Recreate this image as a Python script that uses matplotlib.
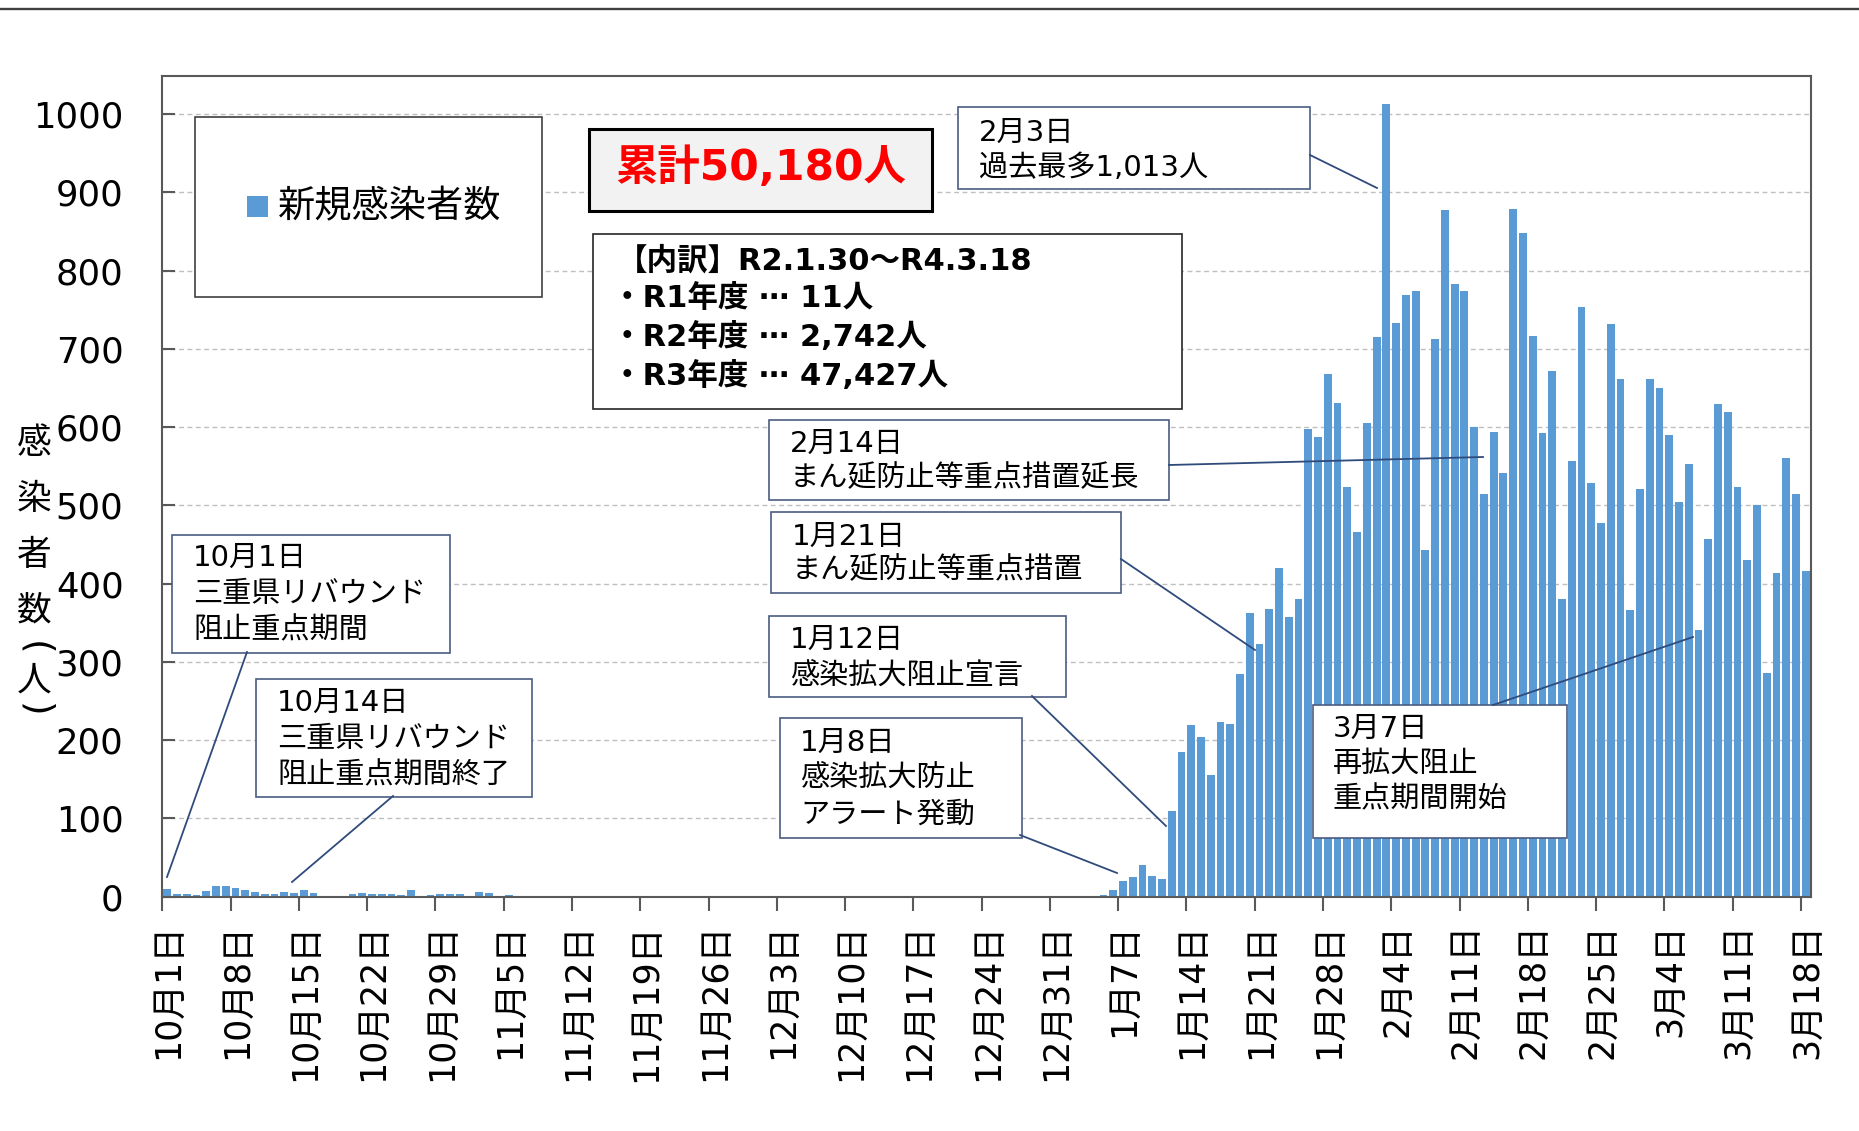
import matplotlib
matplotlib.use('Agg')
import matplotlib.pyplot as plt
import matplotlib.transforms as mtransforms
from matplotlib.patches import Rectangle
from matplotlib.lines import Line2D
import numpy as np

plt.rcParams['font.family'] = ['DejaVu Sans', 'Noto Sans CJK JP']

# ---- data: daily new infections, 2021-10-01 .. 2022-03-18 ----
oct_counts = [10, 3, 4, 2, 7, 14, 14, 11, 9, 6, 3, 3, 6, 5, 8, 5, 1, 0, 1, 3,
              5, 3, 3, 3, 2, 8, 0, 2, 3, 3, 3]
nov_counts = [0, 6, 5, 0, 2, 1] + [0] * 24
dec_counts = [0] * 31
jan_counts = [1, 1, 0, 0, 2, 9, 20, 25, 41, 26, 23, 110, 185, 219, 204, 156,
              223, 221, 284, 363, 323, 368, 420, 357, 381, 597, 588, 668, 631,
              523, 466]
feb_counts = [605, 715, 1013, 733, 769, 774, 443, 713, 877, 783, 774, 600, 515,
              594, 542, 879, 848, 717, 592, 672, 380, 557, 753, 529, 477, 732,
              661, 366]
mar_counts = [521, 662, 650, 590, 504, 553, 341, 457, 629, 619, 523, 430, 500,
              286, 414, 560, 514, 416]

tick_labels = ['10月1日', '10月8日', '10月15日', '10月22日', '10月29日', '11月5日',
               '11月12日', '11月19日', '11月26日', '12月3日', '12月10日', '12月17日',
               '12月24日', '12月31日', '1月7日', '1月14日', '1月21日', '1月28日',
               '2月4日', '2月11日', '2月18日', '2月25日', '3月4日', '3月11日',
               '3月18日']
y_ticks = [0, 100, 200, 300, 400, 500, 600, 700, 800, 900, 1000]

counts = oct_counts + nov_counts + dec_counts + jan_counts + feb_counts + mar_counts
n_days = len(counts)

BAR = '#5B9BD5'
W, H = 1859, 1131
fig = plt.figure(figsize=(W / 100, H / 100), dpi=100)
PX = mtransforms.Affine2D().scale(1 / W, -1 / H).translate(0, 1) + fig.transFigure

ax_l, ax_r, ax_t, ax_b = 162.4, 1810.6, 75.7, 896.7
ax = fig.add_axes([ax_l / W, 1 - ax_b / H, (ax_r - ax_l) / W, (ax_b - ax_t) / H])

x = np.arange(n_days) + 0.5
ax.bar(x, counts, width=0.8, color=BAR, zorder=2)
ax.set_xlim(0, n_days)
ax.set_ylim(0, 1049)
ax.set_axisbelow(True)
ax.yaxis.grid(True, linestyle=(0, (3.5, 2.5)), color='#bfbfbf', lw=1.0)

ax.set_xticks(np.arange(0, n_days, 7))
ax.set_xticklabels(tick_labels)
ax.set_yticks(y_ticks)
ax.tick_params(axis='x', direction='out', length=10, width=1.5, color='#595959',
               pad=9, labelsize=25, labelrotation=90)
ax.tick_params(axis='y', direction='in', length=9, width=1.5, color='#595959',
               pad=28, labelsize=25.5)
shift = mtransforms.ScaledTranslation(6 / 100, 0, fig.dpi_scale_trans)
for lab in ax.get_xticklabels():
    lab.set_transform(lab.get_transform() + shift)
for s in ax.spines.values():
    s.set_color('#595959')
    s.set_linewidth(1.5)

# top rule of the slide
fig.add_artist(Line2D([0, W], [9, 9], transform=PX, color='#404040', lw=1.7))

# y label, stacked vertically
ylab = [('感', 444, 0), ('染', 499, 0), ('者', 555, 0), ('数', 611, 0),
        ('(', 648, -90), ('人', 681, 0), (')', 710, -90)]
for ch, yy, rot in ylab:
    fig.text(34, yy, ch, transform=PX, ha='center', va='center',
             fontsize=25 if rot == 0 else 27,
             rotation=rot, family=['Noto Sans CJK JP'] if rot == 0 else ['DejaVu Sans'])


def box(x0, y0, x1, y1, ec, lw, fc='white'):
    fig.add_artist(Rectangle((x0, y0), x1 - x0, y1 - y0, transform=PX,
                             facecolor=fc, edgecolor=ec, lw=lw))


def lines_text(x0, y0, dy, lines, **kw):
    for k, s in enumerate(lines):
        fig.text(x0, y0 + k * dy, s, transform=PX, ha='left', va='center', **kw)


def leader(p0, p1):
    fig.add_artist(Line2D([p0[0], p1[0]], [p0[1], p1[1]], transform=PX,
                          color='#2F4B7C', lw=1.3))


# legend
box(194.7, 117.3, 542, 297.3, '#404040', 1.2)
fig.add_artist(Rectangle((246.8, 195.7), 21.2, 21.6, transform=PX,
                         facecolor=BAR, edgecolor='none'))
fig.text(278, 207, '新規感染者数', transform=PX, ha='left', va='center', fontsize=26.8)

# cumulative total
box(589, 129, 932, 211, 'black', 2.2, fc='#F2F2F2')
fig.text(760.5, 168, '累計50,180人', transform=PX, ha='center', va='center',
         fontsize=30.5, fontweight='bold', color='#FF0000')

# breakdown
box(593, 234, 1182, 409, '#262626', 1.2)
fig.text(617, 260.5, '【内訳】R2.1.30～R4.3.18', transform=PX, ha='left',
         va='center', fontsize=22, fontweight='bold')
lines_text(612, 298.5, 38.5, ['・R1年度 ⋯ 11人', '・R2年度 ⋯ 2,742人',
                              '・R3年度 ⋯ 47,427人'], fontsize=22, fontweight='bold')

EC = '#4A5C82'
ann = [
    ((958, 107, 1310, 189), (979, 133, 35), ['2月3日', '過去最多1,013人'],
     ((1310, 155), (1377, 188))),
    ((769, 420, 1169, 500), (790, 444, 34), ['2月14日', 'まん延防止等重点措置延長'],
     ((1169, 465), (1483, 457))),
    ((771, 512, 1121, 593), (792, 537, 33), ['1月21日', 'まん延防止等重点措置'],
     ((1121, 559), (1255, 650))),
    ((769, 616, 1066, 697), (790, 640, 37), ['1月12日', '感染拡大阻止宣言'],
     ((1032, 696), (1166, 826))),
    ((780, 718, 1022, 838), (800, 743, 36), ['1月8日', '感染拡大防止', 'アラート発動'],
     ((1020, 835), (1117, 873))),
    ((1313, 705, 1567, 838), (1333, 729, 35), ['3月7日', '再拡大阻止', '重点期間開始'],
     ((1493, 705), (1693, 637))),
    ((172, 535, 450, 653), (193, 558, 36), ['10月1日', '三重県リバウンド', '阻止重点期間'],
     ((247, 652), (167, 877))),
    ((256, 679, 532, 797), (277, 703, 36), ['10月14日', '三重県リバウンド', '阻止重点期間終了'],
     ((393, 796), (292, 882))),
]
for rect, (tx, ty, dy), lines, (p0, p1) in ann:
    leader(p0, p1)
    box(*rect, EC, 1.2)
    lines_text(tx, ty, dy, lines, fontsize=21)

fig.savefig('out.png', dpi=100)
